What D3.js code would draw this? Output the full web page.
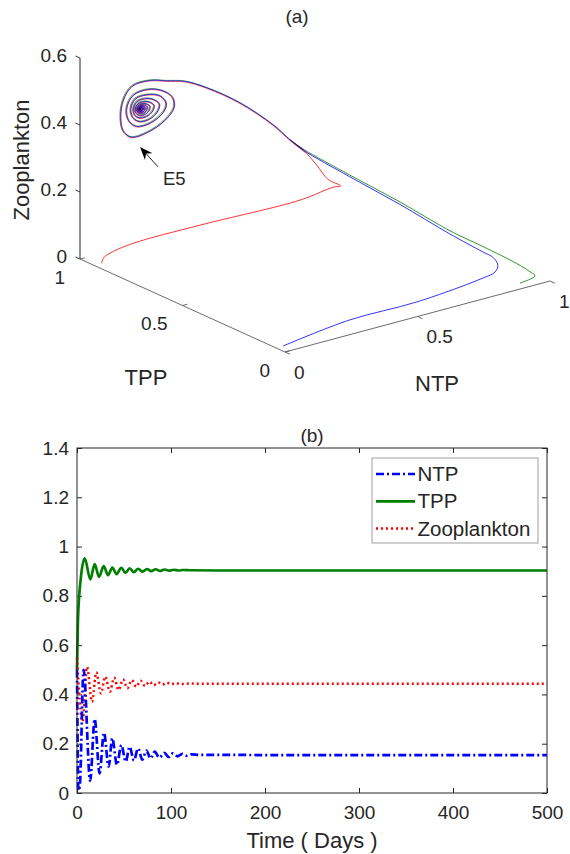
<!DOCTYPE html>
<html>
<head>
<meta charset="utf-8">
<script src="https://cdn.jsdelivr.net/npm/d3@7"></script>
<style>
    body { margin: 0; background: #fff; }
    text { font-family: "Liberation Sans", Arial, Helvetica, sans-serif; fill: #262626; }
</style>
</head>
<body>
<svg id="chart" width="570" height="854"></svg>
<script>
// ---------- data ----------
// (a) phase portrait: tick values of the three axes
const ntpTicks = [0, 0.5, 1];
const tppTicks = [0, 0.5, 1];
const zooTicks = [0, 0.2, 0.4, 0.6];

// points are [NTP, TPP, Zooplankton]
const equilibriumE5 = [0.153, 0.905, 0.442];

const redStart = [
    [0.020, 0.920, 0.005], [0.026, 0.920, 0.019], [0.048, 0.915, 0.031], [0.130, 0.910, 0.044],
    [0.379, 0.905, 0.047], [0.753, 0.900, 0.044], [0.877, 0.900, 0.056], [0.906, 0.900, 0.054],
    [0.858, 0.900, 0.084], [0.816, 0.900, 0.135], [0.772, 0.900, 0.184]
];
const blueStart = [
    [0.000, 0.010, 0.015], [0.245, 0.000, 0.044], [0.498, 0.000, 0.044], [0.755, 0.010, 0.058],
    [0.808, 0.020, 0.062], [0.842, 0.050, 0.067], [0.855, 0.090, 0.076], [0.863, 0.150, 0.074],
    [0.870, 0.320, 0.079], [0.836, 0.520, 0.119], [0.802, 0.720, 0.153], [0.733, 0.860, 0.209]
];
const greenStart = [
    [0.902, 0.020, 0.009], [0.967, 0.030, 0.014], [0.971, 0.060, 0.017], [0.967, 0.120, 0.026],
    [0.965, 0.280, 0.032], [0.948, 0.420, 0.044], [0.898, 0.600, 0.091], [0.825, 0.750, 0.145],
    [0.733, 0.860, 0.212]
];
// part of the path that all three runs share
const sharedArc = [
    [0.700, 0.880, 0.240], [0.651, 0.900, 0.290], [0.542, 0.920, 0.373], [0.425, 0.930, 0.440],
    [0.342, 0.930, 0.477], [0.274, 0.930, 0.493]
];
// spiral into E5
const spiralE5 = [
    [0.191, 0.905, 0.519], [0.123, 0.905, 0.517], [0.089, 0.905, 0.482], [0.079, 0.905, 0.433],
    [0.089, 0.905, 0.390], [0.119, 0.905, 0.365], [0.183, 0.905, 0.367], [0.247, 0.905, 0.389],
    [0.281, 0.905, 0.421], [0.274, 0.905, 0.452], [0.236, 0.905, 0.479],
    [0.183, 0.905, 0.494], [0.127, 0.905, 0.489], [0.102, 0.905, 0.456], [0.108, 0.905, 0.419],
    [0.138, 0.905, 0.393], [0.191, 0.905, 0.392], [0.240, 0.905, 0.414], [0.251, 0.905, 0.439],
    [0.228, 0.905, 0.465],
    [0.179, 0.905, 0.479], [0.134, 0.905, 0.476], [0.117, 0.905, 0.449], [0.127, 0.905, 0.420],
    [0.153, 0.905, 0.404], [0.194, 0.905, 0.406], [0.221, 0.905, 0.424], [0.225, 0.905, 0.442],
    [0.202, 0.905, 0.460],
    [0.172, 0.905, 0.469], [0.139, 0.905, 0.466], [0.127, 0.905, 0.447], [0.134, 0.905, 0.426],
    [0.153, 0.905, 0.415], [0.183, 0.905, 0.416], [0.202, 0.905, 0.429], [0.205, 0.905, 0.442],
    [0.188, 0.905, 0.455],
    [0.167, 0.905, 0.461], [0.143, 0.905, 0.459], [0.134, 0.905, 0.446], [0.139, 0.905, 0.431],
    [0.153, 0.905, 0.422], [0.174, 0.905, 0.423], [0.188, 0.905, 0.433], [0.190, 0.905, 0.442],
    [0.178, 0.905, 0.451],
    [0.163, 0.905, 0.456], [0.146, 0.905, 0.454], [0.140, 0.905, 0.445], [0.143, 0.905, 0.434],
    [0.153, 0.905, 0.428], [0.168, 0.905, 0.428], [0.178, 0.905, 0.435], [0.180, 0.905, 0.442],
    [0.171, 0.905, 0.449],
    [0.160, 0.905, 0.452], [0.148, 0.905, 0.451], [0.143, 0.905, 0.444], [0.146, 0.905, 0.436],
    [0.153, 0.905, 0.432], [0.164, 0.905, 0.432], [0.171, 0.905, 0.437], [0.172, 0.905, 0.442],
    [0.166, 0.905, 0.447],
    [0.158, 0.905, 0.449], [0.149, 0.905, 0.448], [0.146, 0.905, 0.443], [0.148, 0.905, 0.438],
    [0.153, 0.905, 0.434], [0.161, 0.905, 0.435], [0.166, 0.905, 0.438], [0.167, 0.905, 0.442],
    [0.162, 0.905, 0.445],
    [0.157, 0.905, 0.447], [0.150, 0.905, 0.447], [0.148, 0.905, 0.443], [0.149, 0.905, 0.439],
    [0.153, 0.905, 0.436], [0.159, 0.905, 0.437], [0.162, 0.905, 0.439], [0.163, 0.905, 0.442],
    [0.160, 0.905, 0.444],
    [0.156, 0.905, 0.446], [0.151, 0.905, 0.445], [0.149, 0.905, 0.443], [0.150, 0.905, 0.440],
    [0.153, 0.905, 0.438], [0.157, 0.905, 0.438], [0.160, 0.905, 0.440], [0.160, 0.905, 0.442],
    [0.158, 0.905, 0.444],
    [0.153, 0.905, 0.442]
];

// (b) time series, read at the turning points of the oscillations
const timeTicks = [0, 100, 200, 300, 400, 500];
const levelTicks = [0, 0.2, 0.4, 0.6, 0.8, 1, 1.2, 1.4];

const ntpTime = [0, 1.5, 3, 7, 14, 18.8, 24, 28.7, 33.7, 37.5, 42.5, 47.2, 51.8, 56, 60.5, 65, 69.5,
    73.8, 78.3, 82.7, 87.5, 93, 97.5, 102, 107, 112, 117, 122, 130, 150, 200, 500];
const ntpLevel = [0.50, 0.01, 0.03, 0.50, 0.05, 0.30, 0.08, 0.245, 0.107, 0.222, 0.114, 0.195, 0.127,
    0.188, 0.132, 0.181, 0.135, 0.172, 0.140, 0.168, 0.143, 0.163, 0.146, 0.161, 0.149, 0.159, 0.151,
    0.157, 0.155, 0.155, 0.154, 0.154];

const tppTime = [0, 1, 4, 8.2, 14.2, 18.8, 23.4, 28.4, 33, 37.6, 42, 47.2, 51.5, 56, 60.5, 65, 69.8,
    74.5, 79, 83.7, 88.3, 93, 98, 103, 108, 113, 120, 150, 500];
const tppLevel = [0.50, 0.70, 0.87, 0.952, 0.867, 0.929, 0.877, 0.921, 0.884, 0.915, 0.888, 0.914,
    0.893, 0.912, 0.896, 0.910, 0.898, 0.909, 0.900, 0.908, 0.901, 0.907, 0.902, 0.906, 0.903, 0.905,
    0.904, 0.903, 0.903];

const zooTime = [0, 6, 10.6, 16, 20.5, 25.5, 30, 35, 39.5, 44.3, 49, 53.6, 58.3, 63, 67.6, 72.3, 77,
    81.6, 86.3, 91, 95.6, 100.3, 105, 110, 120, 140, 500];
const zooLevel = [0.55, 0.29, 0.512, 0.37, 0.49, 0.404, 0.472, 0.411, 0.468, 0.418, 0.461, 0.425,
    0.458, 0.431, 0.456, 0.434, 0.452, 0.437, 0.449, 0.440, 0.448, 0.441, 0.446, 0.442, 0.444, 0.443,
    0.443];

const legendNames = ['NTP', 'TPP', 'Zooplankton'];

// ---------- layout ----------
const config = {
    origin: [285, 352],      // NTP = 0, TPP = 0, Z = 0 on screen
    ntpLen: [265, -71],
    tppLen: [-205, -93],
    zooLen: 335,
    plot: { left: 77, right: 547, top: 448, bottom: 793 },
    tickFont: 19,
    labelFont: 22
};

const svg = d3.select('#chart');

// ---------- (a) 3-D phase portrait ----------
const ntpX = d3.scaleLinear().domain([0, 1]).range([0, config.ntpLen[0]]);
const ntpY = d3.scaleLinear().domain([0, 1]).range([0, config.ntpLen[1]]);
const tppX = d3.scaleLinear().domain([0, 1]).range([0, config.tppLen[0]]);
const tppY = d3.scaleLinear().domain([0, 1]).range([0, config.tppLen[1]]);
const zooY = d3.scaleLinear().domain([0, 1]).range([0, -config.zooLen]);

function proj(p) {
    return [
        config.origin[0] + ntpX(p[0]) + tppX(p[1]),
        config.origin[1] + ntpY(p[0]) + tppY(p[1]) + zooY(p[2])
    ];
}

const phaseG = svg.append('g').attr('id', 'phase');

function seg(a, b, color, width) {
    const p = proj(a), q = proj(b);
    phaseG.append('line')
        .attr('x1', p[0]).attr('y1', p[1])
        .attr('x2', q[0]).attr('y2', q[1])
        .attr('stroke', color)
        .attr('stroke-width', width);
}

// axes
seg([0, 1, 0], [0, 1, 0.6], '#262626', 1);
seg([0, 0, 0], [0, 1, 0], '#5a5a5a', 0.9);
seg([0, 0, 0], [1, 0, 0], '#5a5a5a', 0.9);

// ticks
zooTicks.forEach(z => seg([0, 1, z], [0, 1.022, z], '#262626', 0.9));
tppTicks.forEach(t => seg([0, t, 0], [0.018, t, 0], '#5a5a5a', 0.9));
ntpTicks.forEach(n => seg([n, 0, 0], [n, -0.024, 0], '#5a5a5a', 0.9));

// tick labels
zooTicks.forEach(z => {
    const p = proj([0, 1, z]);
    phaseG.append('text')
        .attr('x', p[0] - 13).attr('y', p[1] - 3)
        .attr('dy', '0.35em')
        .attr('text-anchor', 'end')
        .style('font-size', config.tickFont + 'px')
        .text(z);
});
tppTicks.forEach(t => {
    const p = proj([0, t, 0]);
    phaseG.append('text')
        .attr('x', p[0] - 15).attr('y', p[1] + 18)
        .attr('dy', '0.35em')
        .attr('text-anchor', 'end')
        .style('font-size', config.tickFont + 'px')
        .text(t);
});
ntpTicks.forEach(n => {
    const p = proj([n, 0, 0]);
    phaseG.append('text')
        .attr('x', p[0] + 9).attr('y', p[1] + 20)
        .attr('dy', '0.35em')
        .attr('text-anchor', 'start')
        .style('font-size', config.tickFont + 'px')
        .text(n);
});

// axis labels
phaseG.append('text')
    .attr('transform', 'translate(29,160) rotate(-90)')
    .attr('text-anchor', 'middle')
    .style('font-size', config.labelFont + 'px')
    .text('Zooplankton');
phaseG.append('text')
    .attr('x', 146).attr('y', 385)
    .attr('text-anchor', 'middle')
    .style('font-size', config.labelFont + 'px')
    .text('TPP');
phaseG.append('text')
    .attr('x', 437).attr('y', 391)
    .attr('text-anchor', 'middle')
    .style('font-size', config.labelFont + 'px')
    .text('NTP');

phaseG.append('text')
    .attr('x', 297).attr('y', 23)
    .attr('text-anchor', 'middle')
    .style('font-size', '19px')
    .text('(a)');

// trajectories
const line3d = d3.line()
    .x(d => proj(d)[0])
    .y(d => proj(d)[1])
    .curve(d3.curveCatmullRom.alpha(0.5));

// each run: its own start, then the shared arc and spiral (slightly offset so the colours show)
const runs = [
    { start: greenStart, color: '#008000', shift: [-0.5, -0.5] },
    { start: redStart, color: '#ff0000', shift: [0, 0.5] },
    { start: blueStart, color: '#0000ff', shift: [0.5, 0] }
];
runs.forEach(r => {
    phaseG.append('path')
        .attr('d', line3d(r.start.concat(sharedArc.slice(0, 1))))
        .attr('fill', 'none')
        .attr('stroke', r.color)
        .attr('stroke-opacity', 0.8)
        .attr('stroke-width', 1);
});
runs.forEach(r => {
    const last = r.start[r.start.length - 1];
    phaseG.append('path')
        .attr('transform', `translate(${r.shift[0]},${r.shift[1]})`)
        .attr('d', line3d([last].concat(sharedArc, spiralE5)))
        .attr('fill', 'none')
        .attr('stroke', r.color)
        .attr('stroke-opacity', 0.75)
        .attr('stroke-width', 0.9);
});

const e5 = proj(equilibriumE5);
phaseG.append('circle')
    .attr('cx', e5[0]).attr('cy', e5[1])
    .attr('r', 1)
    .attr('fill', '#000');

// arrow pointing at E5
const tip = [e5[0], e5[1] + 38];
const tail = [e5[0] + 18, e5[1] + 58];
const len = Math.hypot(tip[0] - tail[0], tip[1] - tail[1]);
const u = [(tip[0] - tail[0]) / len, (tip[1] - tail[1]) / len];
const pp = [-u[1], u[0]];
phaseG.append('line')
    .attr('x1', tail[0]).attr('y1', tail[1])
    .attr('x2', tip[0] - u[0] * 8).attr('y2', tip[1] - u[1] * 8)
    .attr('stroke', '#262626')
    .attr('stroke-width', 1);
phaseG.append('path')
    .attr('d', d3.line()([
        tip,
        [tip[0] - u[0] * 13 + pp[0] * 5, tip[1] - u[1] * 13 + pp[1] * 5],
        [tip[0] - u[0] * 9, tip[1] - u[1] * 9],
        [tip[0] - u[0] * 13 - pp[0] * 5, tip[1] - u[1] * 13 - pp[1] * 5]
    ]) + 'Z')
    .attr('fill', '#000');
phaseG.append('text')
    .attr('x', tail[0] + 5).attr('y', tail[1] + 18)
    .style('font-size', '18.5px')
    .text('E5');

// ---------- (b) time series ----------
const P = config.plot;
const xScale = d3.scaleLinear().domain([0, 500]).range([P.left, P.right]);
const yScale = d3.scaleLinear().domain([0, 1.4]).range([P.bottom, P.top]);

const seriesG = svg.append('g').attr('id', 'series');

seriesG.append('rect')
    .attr('x', P.left).attr('y', P.top)
    .attr('width', P.right - P.left).attr('height', P.bottom - P.top)
    .attr('fill', '#fff');

function styleAxis(g, showText) {
    g.select('.domain').remove();
    g.selectAll('line').attr('stroke', '#262626');
    g.selectAll('text')
        .style('font-size', config.tickFont + 'px')
        .style('font-family', '"Liberation Sans", Arial, sans-serif')
        .attr('fill', '#262626');
    if (!showText) g.selectAll('text').remove();
}

seriesG.append('g')
    .attr('transform', `translate(0,${P.bottom})`)
    .call(d3.axisBottom(xScale).tickValues(timeTicks).tickSizeInner(-5).tickSizeOuter(0).tickPadding(13))
    .call(g => styleAxis(g, true));
seriesG.append('g')
    .attr('transform', `translate(0,${P.top})`)
    .call(d3.axisTop(xScale).tickValues(timeTicks).tickSizeInner(-5).tickSizeOuter(0))
    .call(g => styleAxis(g, false));
seriesG.append('g')
    .attr('transform', `translate(${P.left},0)`)
    .call(d3.axisLeft(yScale).tickValues(levelTicks).tickFormat(d3.format('')).tickSizeInner(-5).tickSizeOuter(0).tickPadding(8))
    .call(g => styleAxis(g, true));
seriesG.append('g')
    .attr('transform', `translate(${P.right},0)`)
    .call(d3.axisRight(yScale).tickValues(levelTicks).tickSizeInner(-5).tickSizeOuter(0))
    .call(g => styleAxis(g, false));

const series = [
    { name: 'NTP', t: ntpTime, v: ntpLevel, color: '#0000ff', width: 2.7, dash: '8,3,2,3' },
    { name: 'TPP', t: tppTime, v: tppLevel, color: '#008000', width: 2.7, dash: null },
    { name: 'Zooplankton', t: zooTime, v: zooLevel, color: '#ff0000', width: 2.5, dash: '2,3' }
];

const line2d = d3.line()
    .x(d => xScale(d[0]))
    .y(d => yScale(d[1]))
    .curve(d3.curveMonotoneX);

// draw TPP first, then zooplankton, then NTP on top like the reference
[series[1], series[2], series[0]].forEach(s => {
    seriesG.append('path')
        .attr('d', line2d(s.t.map((t, i) => [t, s.v[i]])))
        .attr('fill', 'none')
        .attr('stroke', s.color)
        .attr('stroke-width', s.width)
        .attr('stroke-dasharray', s.dash);
});

// box
seriesG.append('rect')
    .attr('x', P.left).attr('y', P.top)
    .attr('width', P.right - P.left).attr('height', P.bottom - P.top)
    .attr('fill', 'none')
    .attr('stroke', '#262626')
    .attr('stroke-width', 1);

// legend
const legend = seriesG.append('g').attr('id', 'legend');
legend.append('rect')
    .attr('x', 372).attr('y', 458)
    .attr('width', 166).attr('height', 85)
    .attr('fill', '#fff')
    .attr('stroke', '#a0a0a0')
    .attr('stroke-width', 1);
legendNames.forEach((name, i) => {
    const s = series.find(d => d.name === name);
    const y = 474 + i * 27.3;
    legend.append('line')
        .attr('x1', 376).attr('x2', 415)
        .attr('y1', y).attr('y2', y)
        .attr('stroke', s.color)
        .attr('stroke-width', s.width)
        .attr('stroke-dasharray', s.dash);
    legend.append('text')
        .attr('x', 417.5).attr('y', y)
        .attr('dy', '0.35em')
        .style('font-size', '20.5px')
        .text(name);
});

seriesG.append('text')
    .attr('x', (P.left + P.right) / 2).attr('y', 442)
    .attr('text-anchor', 'middle')
    .style('font-size', '19px')
    .text('(b)');

seriesG.append('text')
    .attr('x', (P.left + P.right) / 2).attr('y', 848)
    .attr('text-anchor', 'middle')
    .style('font-size', config.labelFont + 'px')
    .text('Time ( Days )');
</script>
</body>
</html>
